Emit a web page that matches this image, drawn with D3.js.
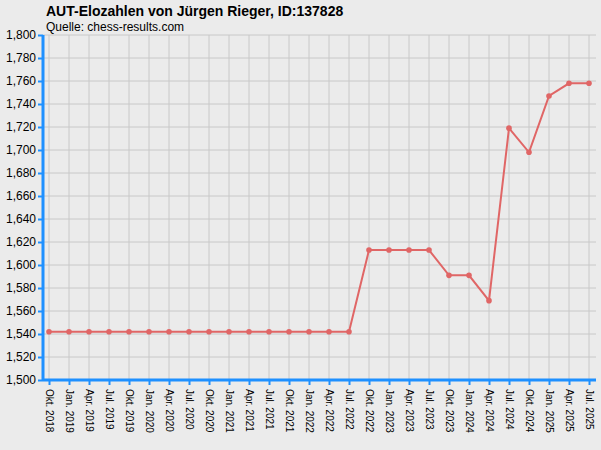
<!DOCTYPE html>
<html><head><meta charset="utf-8">
<script src="https://cdn.jsdelivr.net/npm/d3@7"></script>
<style>body{margin:0;background:#ebebeb;font-family:Arial,"Liberation Sans",sans-serif}</style>
</head><body><div id="chart"></div>
<script>
// ── Data ──────────────────────────────────────────────
const periods = ["Okt. 2018","Jan. 2019","Apr. 2019","Jul. 2019","Okt. 2019","Jan. 2020","Apr. 2020","Jul. 2020",
  "Okt. 2020","Jan. 2021","Apr. 2021","Jul. 2021","Okt. 2021","Jan. 2022","Apr. 2022","Jul. 2022",
  "Okt. 2022","Jan. 2023","Apr. 2023","Jul. 2023","Okt. 2023","Jan. 2024","Apr. 2024","Jul. 2024",
  "Okt. 2024","Jan. 2025","Apr. 2025","Jul. 2025"];
const elo = [1542,1542,1542,1542,1542,1542,1542,1542,1542,1542,1542,1542,1542,1542,1542,1542,
  1613,1613,1613,1613,1591,1591,1569,1719,1698,1747,1758,1758];
const yTicks = d3.range(1500, 1801, 20);

const W = 601, H = 450;
const plotLeft = 43, plotTop = 35, plotBottom = 380, plotRight = 596;

const svg = d3.select("#chart").append("svg").attr("width", W).attr("height", H);

const x = d3.scalePoint().domain(periods).range([49, 589]);
const y = d3.scaleLinear().domain([1500, 1800]).range([plotBottom, plotTop]);

// ── Grid ──────────────────────────────────────────────
svg.append("g").selectAll("line").data(yTicks).join("line")
  .attr("x1", plotLeft).attr("x2", plotRight).attr("y1", d => y(d)).attr("y2", d => y(d))
  .attr("stroke", "#c8c8c8");
svg.append("g").selectAll("line").data(periods).join("line")
  .attr("x1", d => x(d)).attr("x2", d => x(d)).attr("y1", plotTop).attr("y2", plotBottom)
  .attr("stroke", "#c8c8c8");

// ── Axes ──────────────────────────────────────────────
const yAxis = svg.append("g").attr("transform", `translate(${plotLeft},0)`)
  .call(d3.axisLeft(y).tickValues(yTicks).tickSize(5).tickSizeOuter(0));
const xAxis = svg.append("g").attr("transform", `translate(0,${plotBottom})`)
  .call(d3.axisBottom(x).tickSize(5).tickSizeOuter(0));
[yAxis, xAxis].forEach(a => {
  a.select(".domain").remove();
  a.selectAll(".tick line").attr("stroke", "#1e90ff").attr("stroke-width", 2);
  a.selectAll("text").attr("fill", "#000").attr("font-size", 12).attr("font-family", "Arial, 'Liberation Sans', sans-serif");
});
yAxis.selectAll("text").attr("x", -7);
xAxis.selectAll("text").attr("font-size", 10)
  .attr("transform", "rotate(90)").attr("text-anchor", "start")
  .attr("x", 9).attr("y", 0).attr("dy", "0.35em");
svg.append("line").attr("x1", plotLeft).attr("x2", plotLeft).attr("y1", plotTop).attr("y2", plotBottom + 1)
  .attr("stroke", "#1e90ff").attr("stroke-width", 3);
svg.append("line").attr("x1", plotLeft).attr("x2", plotRight).attr("y1", plotBottom).attr("y2", plotBottom)
  .attr("stroke", "#1e90ff").attr("stroke-width", 3);

// ── Line ──────────────────────────────────────────────
const pts = periods.map((p, i) => [p, elo[i]]);
svg.append("path").datum(pts)
  .attr("fill", "none").attr("stroke", "#e06666").attr("stroke-width", 2)
  .attr("d", d3.line().x(d => x(d[0])).y(d => y(d[1])));
svg.append("g").selectAll("circle").data(pts).join("circle")
  .attr("cx", d => x(d[0])).attr("cy", d => y(d[1])).attr("r", 2.8)
  .attr("fill", "#e06666");

// ── Titles ────────────────────────────────────────────
svg.append("text").attr("x", 46).attr("y", 16).attr("font-size", 14).attr("font-weight", "bold")
  .text("AUT-Elozahlen von Jürgen Rieger, ID:137828");
svg.append("text").attr("x", 46).attr("y", 31).attr("font-size", 12)
  .text("Quelle: chess-results.com");
</script></body></html>
